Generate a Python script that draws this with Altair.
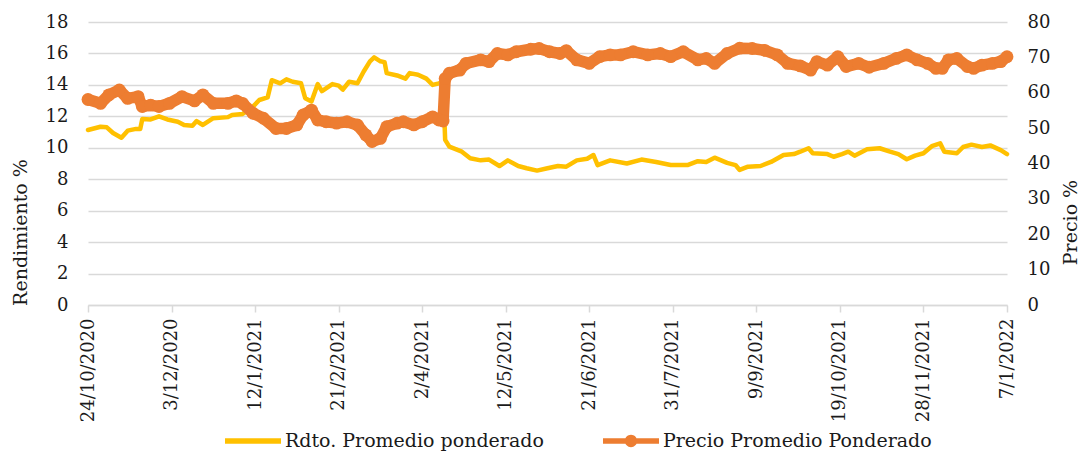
import altair as alt
import pandas as pd

# ---------------- data ----------------
rdto_dates = [
    "2020-10-24", "2020-10-30", "2020-11-02", "2020-11-05", "2020-11-09", "2020-11-12", "2020-11-16",
    "2020-11-18", "2020-11-19", "2020-11-23", "2020-11-27", "2020-12-01", "2020-12-06", "2020-12-09",
    "2020-12-13", "2020-12-15", "2020-12-18", "2020-12-23", "2020-12-30", "2021-01-01", "2021-01-06",
    "2021-01-11", "2021-01-14", "2021-01-18", "2021-01-20", "2021-01-24", "2021-01-27", "2021-01-30",
    "2021-02-03", "2021-02-05", "2021-02-08", "2021-02-11", "2021-02-13", "2021-02-18", "2021-02-21",
    "2021-02-23", "2021-02-26", "2021-03-02", "2021-03-05", "2021-03-08", "2021-03-10", "2021-03-13",
    "2021-03-15", "2021-03-16", "2021-03-21", "2021-03-25", "2021-03-27", "2021-03-31", "2021-04-04",
    "2021-04-07", "2021-04-10", "2021-04-12", "2021-04-13", "2021-04-15", "2021-04-21", "2021-04-25",
    "2021-04-30", "2021-05-04", "2021-05-09", "2021-05-13", "2021-05-18", "2021-05-22", "2021-05-27",
    "2021-06-01", "2021-06-06", "2021-06-10", "2021-06-15", "2021-06-20", "2021-06-23", "2021-06-25",
    "2021-07-01", "2021-07-09", "2021-07-16", "2021-07-23", "2021-07-30", "2021-08-07", "2021-08-12",
    "2021-08-16", "2021-08-20", "2021-08-26", "2021-08-30", "2021-09-01", "2021-09-05", "2021-09-11",
    "2021-09-16", "2021-09-22", "2021-09-27", "2021-09-30", "2021-10-04", "2021-10-06", "2021-10-13",
    "2021-10-16", "2021-10-20", "2021-10-23", "2021-10-26", "2021-11-01", "2021-11-07", "2021-11-12",
    "2021-11-16", "2021-11-20", "2021-11-24", "2021-11-28", "2021-12-02", "2021-12-06", "2021-12-08",
    "2021-12-14", "2021-12-17", "2021-12-21", "2021-12-26", "2021-12-30", "2022-01-04", "2022-01-07",
]
rdto_values = [
    11.13, 11.34, 11.3, 10.94, 10.64, 11.09, 11.2,
    11.2, 11.83, 11.8, 12.0, 11.8, 11.66, 11.45,
    11.4, 11.7, 11.45, 11.88, 11.95, 12.09, 12.15,
    12.62, 13.04, 13.2, 14.3, 14.1, 14.35, 14.2,
    14.1, 13.15, 12.95, 14.05, 13.6, 14.05, 13.95,
    13.7, 14.2, 14.1, 14.85, 15.5, 15.75, 15.5,
    15.45, 14.75, 14.6, 14.4, 14.75, 14.65, 14.4,
    14.0, 14.1, 14.2, 10.5, 10.07, 9.75, 9.33,
    9.2, 9.25, 8.84, 9.2, 8.84, 8.7, 8.55,
    8.7, 8.84, 8.8, 9.2, 9.3, 9.54, 8.9,
    9.2, 9.0, 9.25, 9.1, 8.9, 8.9, 9.15,
    9.1, 9.37, 9.04, 8.9, 8.59, 8.8, 8.84,
    9.1, 9.54, 9.6, 9.75, 9.97, 9.65, 9.6,
    9.43, 9.6, 9.75, 9.5, 9.9, 9.97, 9.75,
    9.6, 9.27, 9.5, 9.65, 10.1, 10.28, 9.75,
    9.65, 10.05, 10.2, 10.05, 10.15, 9.85, 9.6,
]

precio_dates = [
    "2020-10-24", "2020-10-30", "2020-11-03", "2020-11-08", "2020-11-12", "2020-11-17", "2020-11-19",
    "2020-11-23", "2020-11-27", "2020-12-02", "2020-12-08", "2020-12-14", "2020-12-18", "2020-12-23",
    "2020-12-30", "2021-01-03", "2021-01-06", "2021-01-11", "2021-01-16", "2021-01-22", "2021-01-27",
    "2021-02-01", "2021-02-04", "2021-02-08", "2021-02-11", "2021-02-15", "2021-02-20", "2021-02-25",
    "2021-03-02", "2021-03-06", "2021-03-09", "2021-03-13", "2021-03-16", "2021-03-21", "2021-03-24",
    "2021-03-29", "2021-04-02", "2021-04-07", "2021-04-10", "2021-04-12", "2021-04-13", "2021-04-15",
    "2021-04-20", "2021-04-23", "2021-04-30", "2021-05-04", "2021-05-08", "2021-05-13", "2021-05-17",
    "2021-05-24", "2021-05-28", "2021-06-02", "2021-06-07", "2021-06-10", "2021-06-15", "2021-06-21",
    "2021-06-26", "2021-07-01", "2021-07-06", "2021-07-12", "2021-07-19", "2021-07-25", "2021-07-30",
    "2021-08-05", "2021-08-12", "2021-08-16", "2021-08-20", "2021-08-26", "2021-09-01", "2021-09-07",
    "2021-09-13", "2021-09-19", "2021-09-24", "2021-09-30", "2021-10-05", "2021-10-08", "2021-10-13",
    "2021-10-18", "2021-10-22", "2021-10-28", "2021-11-02", "2021-11-09", "2021-11-15", "2021-11-20",
    "2021-11-25", "2021-11-30", "2021-12-04", "2021-12-07", "2021-12-10", "2021-12-14", "2021-12-19",
    "2021-12-22", "2021-12-26", "2021-12-31", "2022-01-04", "2022-01-07",
]
precio_values = [
    58.1, 57.0, 59.4, 60.8, 58.4, 58.9, 56.1,
    56.5, 56.1, 57.0, 58.9, 57.7, 59.4, 57.0,
    57.0, 57.7, 57.0, 54.2, 52.8, 49.9, 49.9,
    50.9, 53.7, 55.1, 52.3, 51.8, 51.4, 51.8,
    50.9, 48.1, 46.2, 47.1, 50.4, 51.4, 51.8,
    50.9, 51.8, 53.2, 52.3, 52.0, 64.0, 65.5,
    66.4, 68.3, 69.3, 68.8, 71.1, 70.7, 71.6,
    72.3, 72.5, 71.6, 71.1, 71.9, 69.3, 68.3,
    70.2, 70.7, 70.7, 71.6, 70.7, 71.1, 70.2,
    71.6, 69.3, 69.7, 68.3, 71.1, 72.6, 72.5,
    72.0, 70.7, 68.3, 67.6, 66.4, 68.8, 67.8,
    70.2, 67.4, 68.3, 67.2, 68.3, 69.7, 70.7,
    69.3, 68.3, 66.9, 66.9, 69.3, 69.7, 67.4,
    66.9, 67.8, 68.3, 68.8, 70.2,
]

tick_labels = ["24/10/2020", "3/12/2020", "12/1/2021", "21/2/2021", "2/4/2021", "12/5/2021",
               "21/6/2021", "31/7/2021", "9/9/2021", "19/10/2021", "28/11/2021", "7/1/2022"]
left_ticks = [0, 2, 4, 6, 8, 10, 12, 14, 16, 18]
right_ticks = [0, 10, 20, 30, 40, 50, 60, 70, 80]

series_names = ["Rdto. Promedio ponderado", "Precio Promedio Ponderado"]
series_colors = ["#FFC000", "#ED7D31"]

# ---------------- build ----------------
FONT = "DejaVu Serif"
TXT = "#1a1a1a"
GRID = "#D9D9D9"

tick_ms = [int(pd.to_datetime(t, format="%d/%m/%Y").value // 10**6) for t in tick_labels]

rdto_df = pd.DataFrame({"fecha": rdto_dates, "valor": rdto_values, "serie": series_names[0]})
precio_df = pd.DataFrame({"fecha": precio_dates, "valor": precio_values, "serie": series_names[1]})
legend_df = pd.DataFrame({"serie": series_names})

x_enc = alt.X(
    "fecha:T",
    title=None,
    scale=alt.Scale(type="utc", domain=[tick_ms[0], tick_ms[-1]], nice=False),
    axis=alt.Axis(
        values=tick_ms,
        labelExpr="utcFormat(datum.value, '%-d/%-m/%Y')",
        labelAngle=270,
        grid=False,
        domainColor=GRID, domainWidth=1.5,
        tickColor=GRID, tickWidth=1.5, tickSize=7,
        labelPadding=6, labelFont=FONT, labelFontSize=18, labelColor=TXT,
        labelOverlap=False,
    ),
)

yellow = alt.Chart(rdto_df).mark_line(
    color=series_colors[0], strokeWidth=4.5, strokeJoin="round", strokeCap="round"
).encode(
    x=x_enc,
    y=alt.Y(
        "valor:Q",
        scale=alt.Scale(domain=[0, 18], nice=False),
        axis=alt.Axis(
            values=left_ticks, title="Rendimiento %", grid=True, gridColor=GRID, gridWidth=1.5,
            domain=False, ticks=False, labelPadding=20,
            labelFont=FONT, labelFontSize=18, labelColor=TXT,
            titleFont=FONT, titleFontSize=19, titleFontWeight="normal", titleColor=TXT,
            titleAngle=270, titleX=-68, titleY=210, titleAlign="center", titleBaseline="middle",
        ),
    ),
)

right_y = alt.Y(
    "valor:Q",
    scale=alt.Scale(domain=[0, 80], nice=False),
    axis=alt.Axis(
        orient="right", values=right_ticks, title="Precio %", grid=False,
        domain=False, ticks=False, labelPadding=20,
        labelFont=FONT, labelFontSize=18, labelColor=TXT,
        titleFont=FONT, titleFontSize=19, titleFontWeight="normal", titleColor=TXT,
        titleAngle=270, titleX=63, titleY=200, titleAlign="center", titleBaseline="middle",
    ),
)

orange_line = alt.Chart(precio_df).mark_line(
    color=series_colors[1], strokeWidth=11.5, strokeJoin="round", strokeCap="round"
).encode(x=x_enc, y=right_y)
orange_pts = alt.Chart(precio_df).mark_circle(
    color=series_colors[1], size=165, opacity=1
).encode(x=x_enc, y=right_y)
orange = alt.layer(orange_line, orange_pts)

path_line = "M-1,-0.1H1V0.1H-1Z"
path_marker = ("M-1,-0.1H-0.2V0.1H-1Z M0.2,-0.1H1V0.1H0.2Z "
               "M-0.22,0A0.22,0.22 0 1,1 0.22,0A0.22,0.22 0 1,1 -0.22,0Z")

leg = alt.Legend(
    title=None, orient="none", legendX=137, legendY=391, direction="horizontal",
    symbolSize=3136, symbolStrokeWidth=0, symbolOpacity=1,
    labelFont=FONT, labelFontSize=19, labelColor=TXT, labelOffset=4, labelLimit=500,
    columnPadding=59, padding=0,
)
legend_layer = alt.Chart(legend_df).mark_point(filled=True, opacity=1).encode(
    color=alt.Color("serie:N", scale=alt.Scale(domain=series_names, range=series_colors), legend=leg),
    shape=alt.Shape("serie:N", scale=alt.Scale(domain=series_names, range=[path_line, path_marker]), legend=leg),
).transform_filter("false")

chart = alt.layer(yellow, orange, legend_layer).resolve_scale(
    y="independent"
).properties(
    width=919, height=283,
    autosize=alt.AutoSizeParams(type="none"),
    padding={"left": 80, "top": 14, "right": 76, "bottom": 148},
    background="white",
).configure_view(strokeWidth=0)

chart.save("out.html", embed_options={"renderer": "svg", "actions": False})
